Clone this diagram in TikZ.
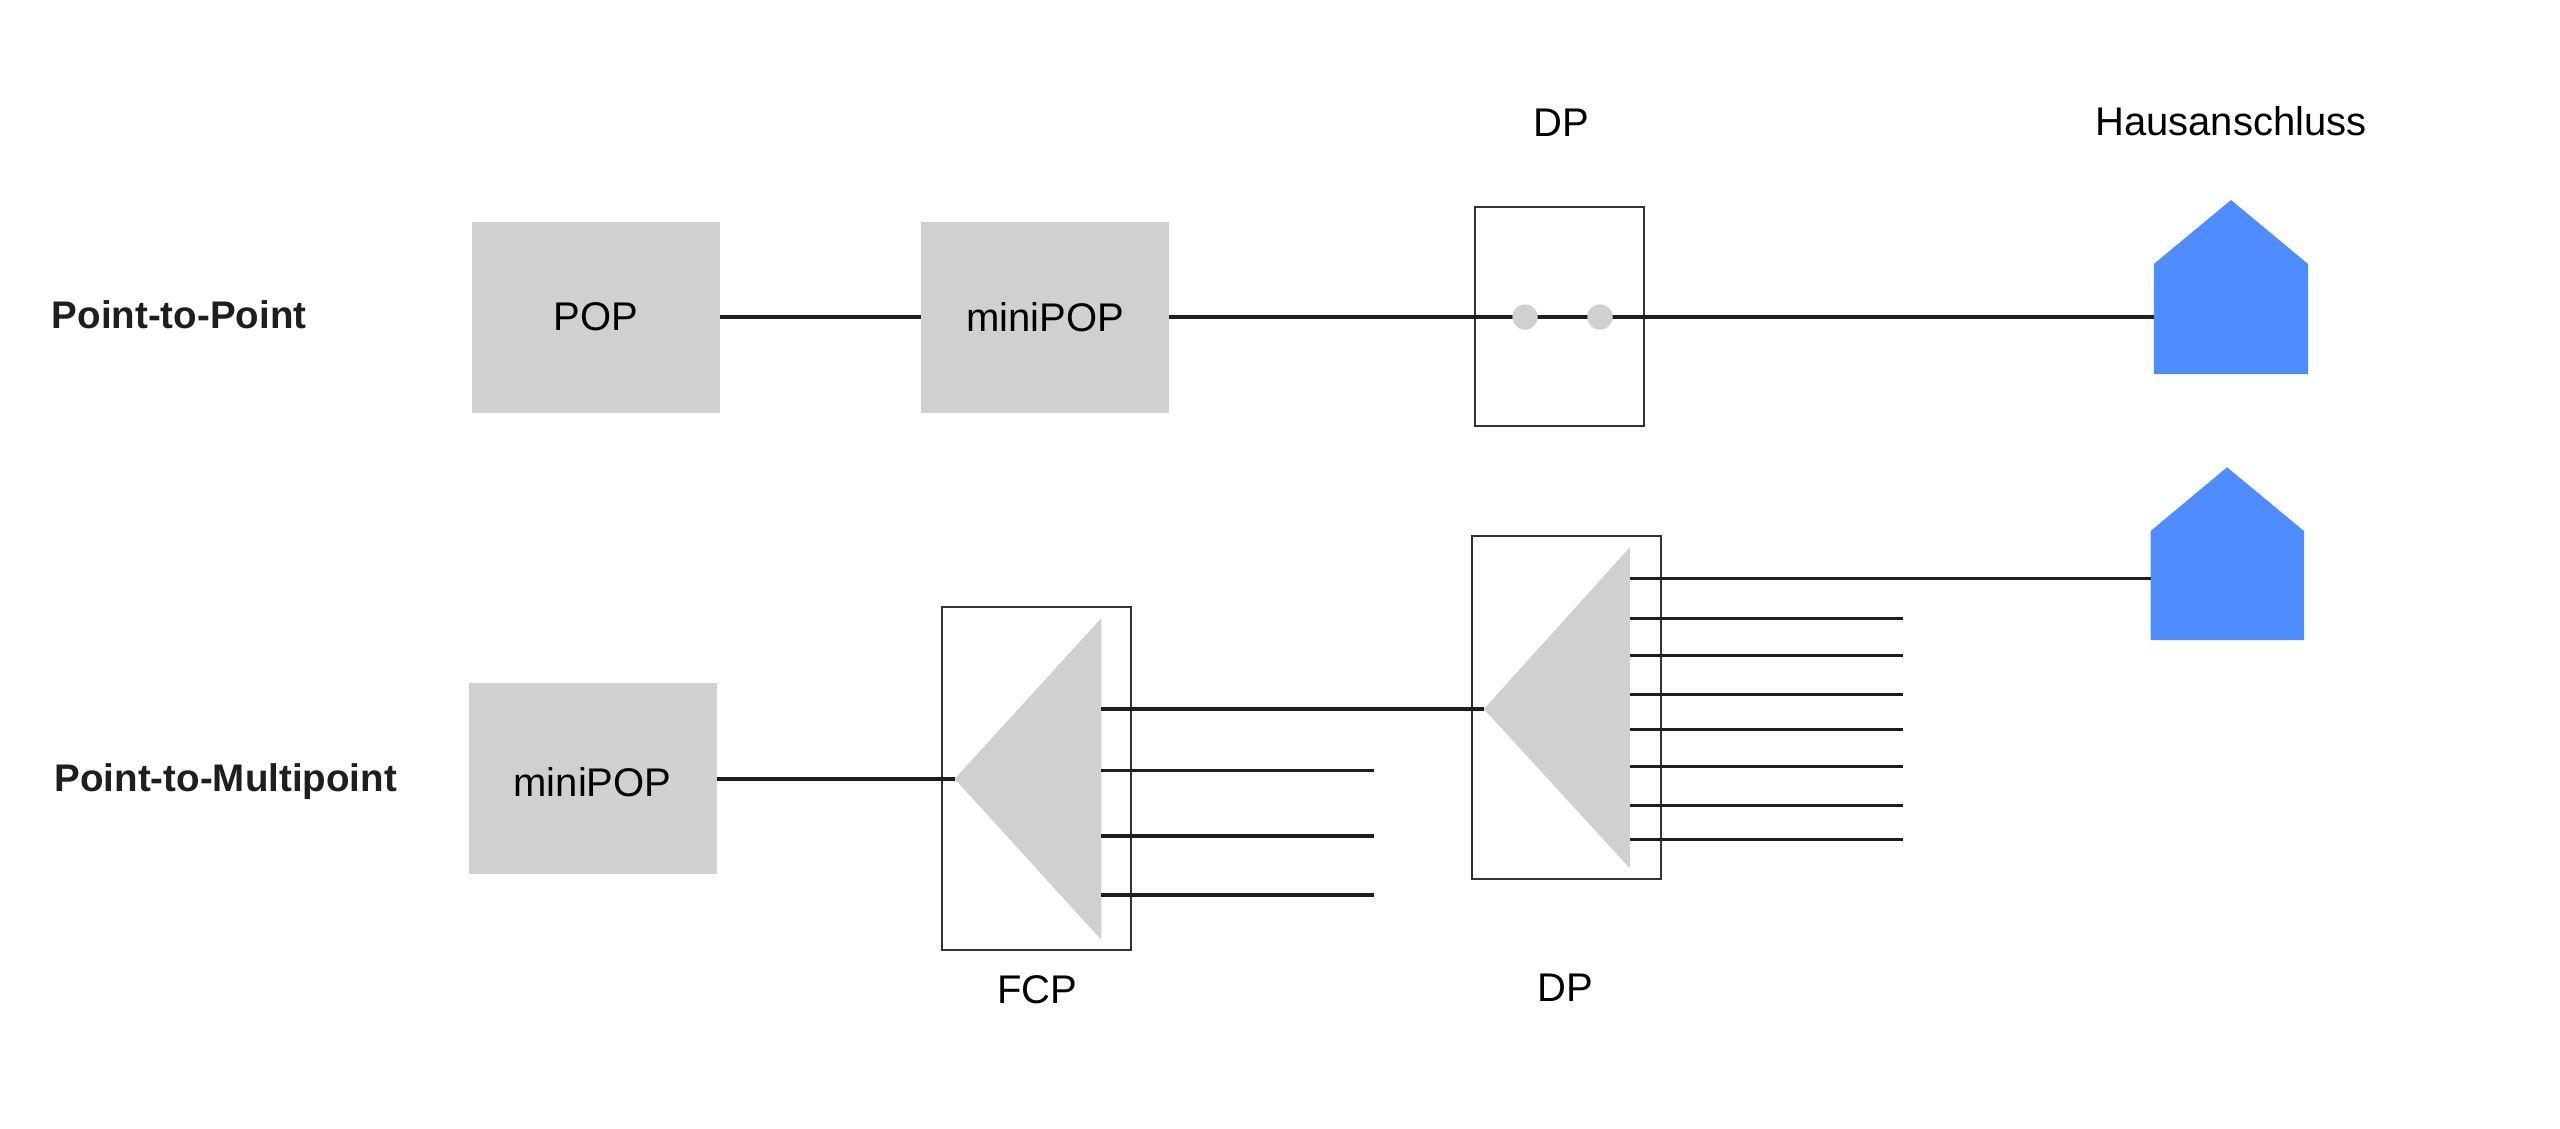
\documentclass[tikz,border=0pt]{standalone}
\usepackage{fontspec}
\setmainfont{Liberation Sans}
\usetikzlibrary{positioning}
\definecolor{boxgray}{HTML}{D0D0D0}
\definecolor{houseblue}{HTML}{4F8CFF}
\definecolor{wirecol}{HTML}{1E1E1E}
\definecolor{framecol}{HTML}{333333}
\tikzset{
  graybox/.style={fill=boxgray, inner sep=0pt, minimum width=248pt, minimum height=191pt, font=\fontsize{40}{48}\selectfont},
  frame/.style={draw=framecol, line width=2pt, inner sep=0pt},
  dot/.style={circle, fill=boxgray, inner sep=0pt, minimum size=25.5pt},
  wire/.style={draw=wirecol, line width=3.4pt},
  tag/.style={anchor=base, inner sep=0pt, font=\fontsize{40}{48}\selectfont},
  rowtag/.style={anchor=base west, inner sep=0pt, font=\fontsize{38.5}{46}\selectfont\bfseries, text=wirecol},
}
\begin{document}
\begin{tikzpicture}[x=1pt, y=-1pt]
			\useasboundingbox (0,0) rectangle (2560,1128);
			\node [rowtag] (ptp) at (51.7,328.6) {Point-to-Point};
			\node [rowtag] (ptmp) at (54.5,791.5) {Point-to-Multipoint};
			% upper row
			\node [graybox] (pop) at (596,317) {POP};
			\node [graybox] (miniA) at (1045,317) {miniPOP};
			\node [frame, minimum width=169pt, minimum height=219pt] (dpA) at (1559.6,316.7) {};
			\node [tag] (dpAtag) at (1561.6,136.7) {DP};
			\node [tag] (haus) at (2231,135) {Hausanschluss};
			\coordinate (hausA) at (2153.8,317);
			\draw [wire] (pop.east) -- (miniA.west);
			\draw [wire] (miniA.east) -- (hausA);
			\node [dot] (dotA) at (1525,317) {};
			\node [dot] (dotB) at (1600,317) {};
			\fill [houseblue] (2153.8,264) -- (2231,200) -- (2308,264) -- (2308,374) -- (2153.8,374) -- cycle;
			% lower row
			\node [graybox, text height=36.5pt] (miniB) at (592.5,778.8) {miniPOP};
			\node [frame, minimum width=189pt, minimum height=343pt] (fcp) at (1036.5,778.7) {};
			\node [frame, minimum width=189pt, minimum height=343pt] (dpB) at (1566.3,707.2) {};
			\node [tag] (fcptag) at (1037.5,1003) {FCP};
			\node [tag] (dpBtag) at (1565.7,1001) {DP};
			\coordinate (fcpTip) at (954.7,778.8);
			\coordinate (fcpEdge) at (1101.4,778.8);
			\coordinate (dpTip) at (1483.9,709);
			\coordinate (dpEdge) at (1629.8,709);
			\coordinate (hausB) at (2150.6,578.3);
			\fill [boxgray] (fcpTip) -- (1101.4,618) -- (1101.4,940) -- cycle;
			\fill [boxgray] (dpTip) -- (1629.8,547.3) -- (1629.8,868.3) -- cycle;
			\fill [houseblue] (2150.6,531) -- (2227,467.3) -- (2304,531) -- (2304,640) -- (2150.6,640) -- cycle;
			\draw [wire] (miniB.east) -- (fcpTip);
			\draw [wire] (fcpEdge |- dpTip) -- (dpTip);
			\draw [wire] (dpEdge |- hausB) -- (hausB);
			\foreach \i/\y in {1/770.7, 2/836, 3/895} {
				\coordinate (fcpEnd\i) at (1373.7,\y);
				\draw [wire] (fcpEdge |- fcpEnd\i) -- (fcpEnd\i);
			}
			\foreach \i/\y in {1/618.7, 2/655.3, 3/694.7, 4/729.7, 5/766.7, 6/805.7, 7/839.3} {
				\coordinate (dpEnd\i) at (1902.8,\y);
				\draw [wire] (dpEdge |- dpEnd\i) -- (dpEnd\i);
			}
\end{tikzpicture}
\end{document}
